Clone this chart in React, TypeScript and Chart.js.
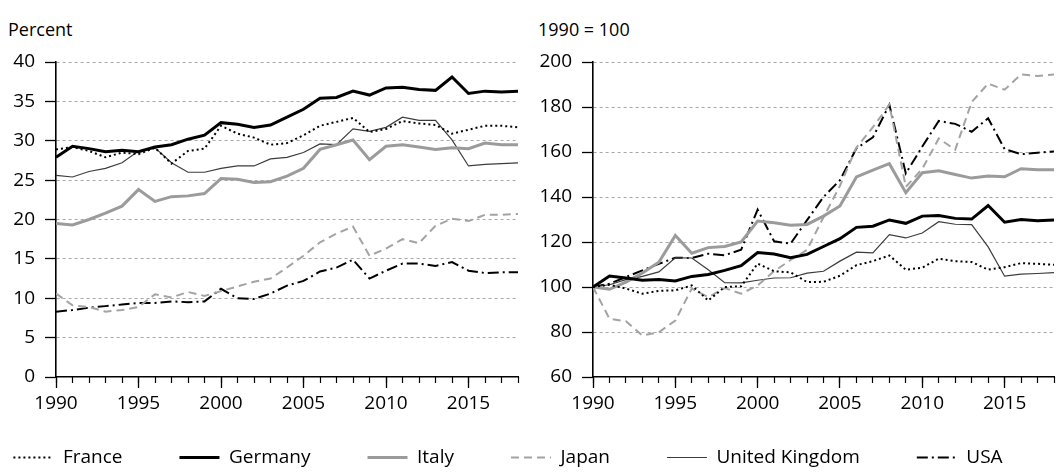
import React, { useEffect, useRef } from "react";
import { Chart, registerables } from "chart.js";

Chart.register(...registerables);

// ---------- data ----------
const years = [1990, 1991, 1992, 1993, 1994, 1995, 1996, 1997, 1998, 1999, 2000, 2001, 2002, 2003, 2004, 2005, 2006, 2007, 2008, 2009, 2010, 2011, 2012, 2013, 2014, 2015, 2016, 2017, 2018];
const xTickValues = [1990, 1995, 2000, 2005, 2010, 2015];
const seriesNames = ["France", "Germany", "Italy", "Japan", "United Kingdom", "USA"];

// Left panel: percent
const francePct = [28.9, 29.2, 28.7, 27.9, 28.5, 28.3, 29.1, 27.1, 28.7, 29.0, 31.9, 30.9, 30.4, 29.5, 29.7, 30.7, 31.9, 32.4, 32.9, 31.1, 31.5, 32.5, 32.2, 32.0, 30.9, 31.4, 31.9, 31.9, 31.7];
const germanyPct = [27.9, 29.3, 29.0, 28.6, 28.8, 28.6, 29.2, 29.5, 30.2, 30.7, 32.3, 32.1, 31.7, 32.0, 33.0, 34.0, 35.4, 35.5, 36.3, 35.8, 36.7, 36.8, 36.5, 36.4, 38.1, 36.0, 36.3, 36.2, 36.3];
const italyPct = [19.5, 19.3, 20.0, 20.8, 21.7, 23.8, 22.3, 22.9, 23.0, 23.3, 25.2, 25.1, 24.7, 24.8, 25.5, 26.5, 28.9, 29.5, 30.1, 27.6, 29.3, 29.5, 29.2, 28.9, 29.1, 29.0, 29.7, 29.5, 29.5];
const japanPct = [10.6, 9.1, 8.9, 8.3, 8.5, 8.9, 10.5, 10.1, 10.8, 10.3, 10.9, 11.5, 12.1, 12.5, 13.9, 15.4, 17.1, 18.2, 19.1, 15.4, 16.3, 17.5, 17.0, 19.2, 20.1, 19.8, 20.6, 20.6, 20.7];
const ukPct = [25.6, 25.4, 26.1, 26.5, 27.2, 28.7, 29.1, 27.2, 26.0, 26.0, 26.5, 26.8, 26.8, 27.7, 27.9, 28.5, 29.6, 29.5, 31.5, 31.2, 31.7, 33.0, 32.6, 32.6, 30.1, 26.8, 27.0, 27.1, 27.2];
const usaPct = [8.3, 8.5, 8.8, 9.0, 9.2, 9.4, 9.4, 9.6, 9.5, 9.6, 11.2, 10.0, 9.9, 10.6, 11.6, 12.2, 13.4, 13.9, 14.9, 12.5, 13.5, 14.4, 14.4, 14.1, 14.6, 13.5, 13.2, 13.3, 13.3];

// Right panel: index 1990 = 100
const franceIdx = [100, 101, 99.3, 97, 98.3, 98.5, 100.7, 94, 100, 100.3, 110.4, 107, 106.5, 102.2, 102.3, 105, 109.7, 111.5, 114, 107.7, 108.6, 112.6, 111.5, 111.1, 107.7, 108.8, 110.6, 110.3, 109.9];
const germanyIdx = [100, 104.9, 104, 103, 103.3, 102.7, 104.7, 105.6, 107.4, 109.5, 115.3, 114.7, 113, 114.5, 118, 121.5, 126.5, 127, 129.8, 128.3, 131.5, 131.8, 130.5, 130.2, 136.2, 128.8, 130, 129.5, 129.8];
const italyIdx = [100, 99, 102.2, 106.2, 111, 122.9, 115, 117.5, 118, 120, 129.3, 128.6, 127.4, 127.8, 131.5, 136, 148.9, 151.9, 154.8, 141.9, 150.8, 151.7, 150, 148.4, 149.3, 149, 152.6, 152.1, 152.1];
const japanIdx = [100, 85.9, 84.8, 78.4, 79.9, 85.1, 99.3, 95.5, 99.5, 97, 100.7, 107, 112, 116.5, 131, 145, 162, 171, 181, 144.5, 152.5, 166, 161, 182.2, 190.4, 187.7, 194.5, 193.8, 194.5];
const ukIdx = [100, 101, 103.3, 104.7, 106.7, 113, 112.9, 107.7, 101.9, 101.8, 103, 104, 104.1, 106.2, 107, 111.5, 115.5, 115.2, 123.3, 121.8, 124, 129, 127.9, 127.7, 117.8, 104.8, 105.7, 106, 106.4];
const usaIdx = [100, 101.5, 104.4, 107.4, 110.3, 113, 112.9, 114.8, 114.1, 116.6, 134.4, 120.3, 119.3, 129.7, 140, 147.5, 161.6, 166.5, 181, 150.5, 162.4, 173.8, 172.5, 169, 175, 161.3, 159, 159.7, 160.2];

const leftSeries = [francePct, germanyPct, italyPct, japanPct, ukPct, usaPct];
const rightSeries = [franceIdx, germanyIdx, italyIdx, japanIdx, ukIdx, usaIdx];

// ---------- styles ----------
const FONT = "'Open Sans', 'Noto Sans', sans-serif";
const FONT_SIZE = 19;
const LEGEND_GAP = 57;
const styles = [
  { color: "#000000", width: 2, dash: [2, 3] },
  { color: "#000000", width: 3, dash: [] as number[] },
  { color: "#9b9b9b", width: 3, dash: [] as number[] },
  { color: "#a3a3a3", width: 2, dash: [8, 5] },
  { color: "#3c3c3c", width: 1.2, dash: [] as number[] },
  { color: "#000000", width: 2, dash: [11, 4, 2, 4] },
];

function buildDatasets(series: number[][]) {
  return series.map((vals, i) => ({
    label: seriesNames[i],
    data: vals.map((v, k) => ({ x: years[k], y: v })),
    borderColor: styles[i].color,
    backgroundColor: styles[i].color,
    borderWidth: styles[i].width,
    borderDash: styles[i].dash,
    pointRadius: 0,
    tension: 0,
    fill: false,
  }));
}

function panelOptions(yMin: number, yMax: number, yStep: number, yWidth: number, padRight: number): any {
  return {
    responsive: false,
    animation: false,
    layout: { padding: { top: 62, right: padRight, left: 0, bottom: 0 } },
    plugins: { legend: { display: false }, tooltip: { enabled: false }, title: { display: false } },
    scales: {
      x: {
        type: "linear",
        position: "bottom",
        min: 1990,
        max: 2018,
        afterBuildTicks: (s: any) => {
          s.ticks = xTickValues.map((v) => ({ value: v }));
        },
        ticks: {
          autoSkip: false,
          maxRotation: 0,
          color: "#000",
          font: { family: FONT, size: FONT_SIZE },
          padding: 4,
          callback: (v: any) => String(v),
        },
        grid: { drawOnChartArea: false, drawTicks: true, tickLength: 11, tickColor: "#000", tickWidth: 1.3 },
        border: { display: true, color: "#000", width: 1.6 },
        afterFit: (s: any) => {
          s.height = 43;
        },
      },
      xMinor: {
        type: "linear",
        position: { y: yMin },
        min: 1990,
        max: 2018,
        ticks: { display: false, stepSize: 1 },
        grid: { drawOnChartArea: false, drawTicks: true, tickLength: 6, tickColor: "#000", tickWidth: 1.2 },
        border: { display: false },
      },
      y: {
        min: yMin,
        max: yMax,
        ticks: {
          stepSize: yStep,
          color: "#000",
          font: { family: FONT, size: FONT_SIZE },
          padding: 10,
        },
        grid: {
          color: (c: any) => (c.tick && c.tick.value === yMin ? "rgba(0,0,0,0)" : "#a8a8a8"),
          lineWidth: 1,
          tickColor: "#000",
          tickLength: 11,
          tickWidth: 1.3,
          tickBorderDash: [],
        },
        border: { display: true, color: "#000", width: 1.6, dash: [3, 3] },
        afterFit: (s: any) => {
          s.width = yWidth;
        },
      },
    },
  };
}

function Panel(props: { series: number[][]; yMin: number; yMax: number; yStep: number; yWidth: number; padRight: number; left: number; width: number }) {
  const ref = useRef<HTMLCanvasElement | null>(null);
  useEffect(() => {
    if (!ref.current) return;
    const chart = new Chart(ref.current, {
      type: "line",
      data: { datasets: buildDatasets(props.series) as any },
      options: panelOptions(props.yMin, props.yMax, props.yStep, props.yWidth, props.padRight),
    });
    return () => chart.destroy();
  }, []);
  return (
    <canvas
      ref={ref}
      width={props.width}
      height={420}
      style={{ position: "absolute", left: props.left, top: 0, width: props.width, height: 420 }}
    />
  );
}

function Legend() {
  const ref = useRef<HTMLCanvasElement | null>(null);
  useEffect(() => {
    if (!ref.current) return;
    const chart = new Chart(ref.current, {
      type: "line",
      data: {
        datasets: styles.map((st, i) => ({
          label: seriesNames[i],
          data: [],
          borderColor: st.color,
          backgroundColor: st.color,
          borderWidth: st.width,
          borderDash: st.dash,
        })) as any,
      },
      options: {
        responsive: false,
        animation: false,
        layout: { padding: 0 },
        scales: { x: { display: false }, y: { display: false } },
        plugins: {
          tooltip: { enabled: false },
          legend: {
            display: true,
            position: "top",
            align: "center",
            maxHeight: 400,
            labels: {
              usePointStyle: true,
              pointStyle: "line",
              pointStyleWidth: 40,
              color: "#000",
              font: { family: FONT, size: FONT_SIZE },
              padding: LEGEND_GAP,
              generateLabels: () =>
                styles.map((st, i) => ({
                  text: seriesNames[i],
                  fillStyle: st.color,
                  strokeStyle: st.color,
                  lineWidth: st.width,
                  lineDash: st.dash,
                  lineCap: "butt",
                  pointStyle: "line",
                  hidden: false,
                  datasetIndex: i,
                  fontColor: "#000",
                })),
            },
          },
        },
      } as any,
    });
    return () => chart.destroy();
  }, []);
  return (
    <canvas
      ref={ref}
      width={1300}
      height={220}
      style={{ position: "absolute", left: -142, top: 391, width: 1300, height: 220 }}
    />
  );
}

export default function App() {
  const titleStyle: React.CSSProperties = {
    position: "absolute",
    top: 17,
    fontFamily: FONT,
    fontSize: 18,
    color: "#000",
    lineHeight: "24px",
    whiteSpace: "nowrap",
  };
  return (
    <div style={{ position: "absolute", left: 0, top: 0, width: 1059, height: 472, background: "#fff", overflow: "hidden" }}>
      <div style={{ ...titleStyle, left: 8 }}>Percent</div>
      <div style={{ ...titleStyle, left: 538 }}>1990 = 100</div>
      <Panel series={leftSeries} yMin={0} yMax={40} yStep={5} yWidth={56} padRight={11} left={0} width={529} />
      <Panel series={rightSeries} yMin={60} yMax={200} yStep={20} yWidth={64} padRight={5} left={529} width={530} />
      <Legend />
    </div>
  );
}
